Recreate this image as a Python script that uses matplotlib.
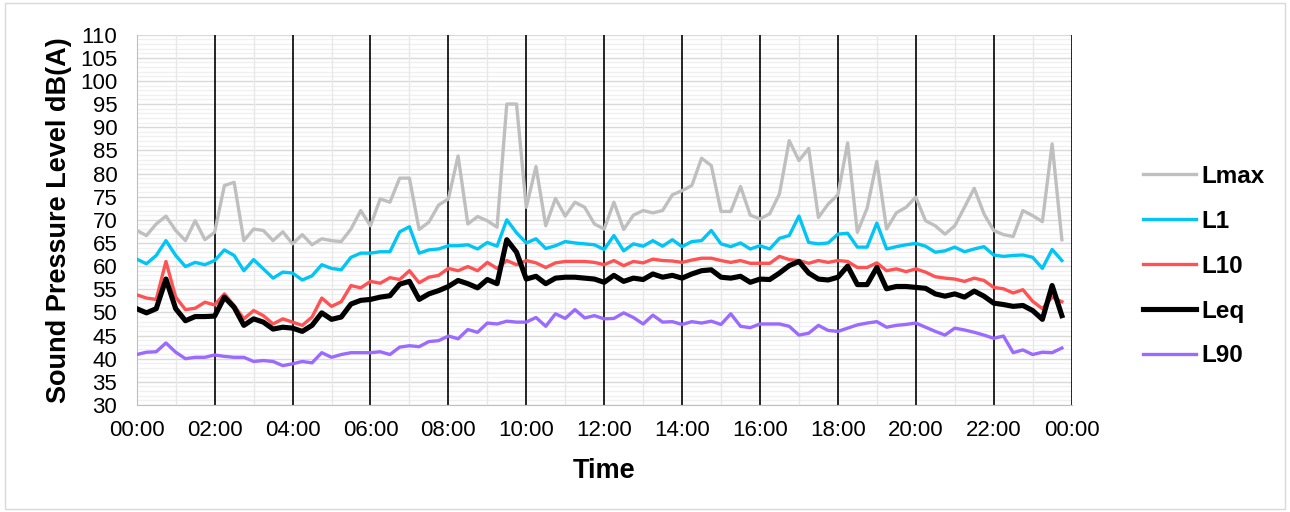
import numpy as np
import matplotlib.pyplot as plt
from matplotlib.ticker import MultipleLocator, FuncFormatter
from matplotlib.patches import Rectangle

plt.rcParams['font.family'] = ['Liberation Sans', 'DejaVu Sans']

# 15-minute readings over 24 hours, dB(A)
hours = np.arange(96) * 0.25

lmax = [67.7, 66.6, 69.1, 70.8, 67.7, 65.5, 69.8, 65.7, 67.3, 77.4, 78.1, 65.5, 68.0, 67.7, 65.5, 67.4,
        64.8, 66.8, 64.6, 65.9, 65.5, 65.3, 68.0, 72.0, 68.7, 74.5, 73.8, 79.0, 79.0, 67.9, 69.5, 73.2,
        74.5, 83.8, 69.1, 70.7, 69.8, 68.4, 95.0, 95.0, 72.7, 81.5, 68.7, 74.6, 70.8, 73.8, 72.7, 69.1,
        68.0, 73.8, 67.9, 71.0, 72.0, 71.5, 72.0, 75.4, 76.3, 77.4, 83.3, 81.7, 71.8, 71.8, 77.2, 71.0,
        70.2, 71.3, 75.6, 87.1, 82.8, 85.4, 70.5, 73.4, 75.4, 86.6, 67.3, 72.5, 82.6, 68.0, 71.5, 72.7,
        74.9, 69.8, 68.7, 66.9, 68.7, 72.7, 76.8, 71.3, 67.7, 66.8, 66.4, 72.0, 70.9, 69.6, 86.4, 65.7]
l1 = [61.5, 60.5, 62.3, 65.5, 62.3, 59.9, 60.8, 60.3, 61.2, 63.5, 62.3, 59.0, 61.4, 59.4, 57.4, 58.7,
      58.5, 57.0, 57.9, 60.3, 59.5, 59.2, 61.9, 62.8, 62.8, 63.1, 63.1, 67.4, 68.5, 62.8, 63.5, 63.7,
      64.4, 64.4, 64.6, 63.7, 65.1, 64.3, 70.0, 67.2, 65.0, 65.9, 63.8, 64.4, 65.3, 65.0, 64.8, 64.6,
      63.6, 66.6, 63.3, 64.8, 64.3, 65.5, 64.3, 65.7, 64.2, 65.3, 65.5, 67.7, 64.8, 64.2, 65.0, 63.7,
      64.4, 63.7, 66.0, 66.6, 70.8, 65.1, 64.8, 65.0, 66.9, 67.1, 64.1, 64.1, 69.3, 63.7, 64.2, 64.6,
      64.9, 64.3, 63.0, 63.3, 64.1, 63.1, 63.7, 64.2, 62.4, 62.1, 62.3, 62.4, 61.9, 59.5, 63.6, 61.2]
l10 = [53.8, 53.1, 52.8, 61.0, 53.3, 50.6, 50.9, 52.2, 51.6, 54.0, 51.5, 48.6, 50.4, 49.3, 47.5, 48.6,
       47.9, 47.2, 49.0, 53.1, 51.3, 52.3, 55.8, 55.3, 56.7, 56.3, 57.5, 57.1, 59.0, 56.4, 57.6, 58.0,
       59.5, 59.0, 59.9, 59.0, 60.8, 59.5, 61.2, 60.3, 61.2, 60.7, 59.7, 60.7, 61.0, 61.0, 61.0, 60.8,
       60.3, 61.2, 60.1, 61.0, 60.7, 61.5, 61.2, 61.1, 60.8, 61.3, 61.7, 61.7, 61.2, 60.8, 61.2, 60.6,
       60.6, 60.6, 62.1, 61.4, 61.2, 60.6, 61.2, 60.8, 61.2, 61.0, 59.7, 59.7, 60.7, 59.0, 59.4, 58.8,
       59.4, 58.7, 57.7, 57.4, 57.2, 56.7, 57.4, 56.9, 55.4, 55.1, 54.2, 54.9, 52.4, 50.8, 53.3, 52.3]
leq = [50.8, 49.9, 50.8, 57.2, 50.8, 48.2, 49.1, 49.1, 49.2, 53.3, 51.1, 47.2, 48.6, 47.9, 46.4, 46.8,
       46.6, 45.9, 47.2, 49.9, 48.5, 49.0, 51.8, 52.6, 52.8, 53.3, 53.6, 56.1, 56.7, 52.8, 54.0, 54.7,
       55.6, 56.9, 56.2, 55.3, 57.1, 56.2, 65.7, 63.0, 57.2, 57.8, 56.2, 57.4, 57.6, 57.6, 57.4, 57.2,
       56.5, 58.0, 56.7, 57.4, 57.1, 58.3, 57.6, 58.0, 57.4, 58.3, 59.0, 59.2, 57.6, 57.4, 57.8, 56.5,
       57.2, 57.1, 58.5, 60.1, 61.0, 58.5, 57.2, 57.0, 57.6, 60.0, 56.0, 56.0, 59.7, 55.1, 55.6, 55.6,
       55.4, 55.2, 54.0, 53.5, 54.0, 53.3, 54.6, 53.5, 52.0, 51.7, 51.3, 51.5, 50.4, 48.5, 55.8, 49.3]
l90 = [40.9, 41.4, 41.5, 43.4, 41.4, 40.0, 40.3, 40.3, 40.8, 40.5, 40.3, 40.3, 39.4, 39.6, 39.4, 38.5,
       38.9, 39.4, 39.1, 41.3, 40.3, 40.9, 41.3, 41.3, 41.3, 41.5, 40.9, 42.5, 42.8, 42.6, 43.7, 43.9,
       44.9, 44.3, 46.3, 45.7, 47.7, 47.5, 48.1, 47.9, 47.9, 48.9, 47.0, 49.7, 48.7, 50.6, 48.8, 49.3,
       48.6, 48.7, 49.9, 48.9, 47.5, 49.4, 47.9, 48.0, 47.4, 48.0, 47.7, 48.1, 47.4, 49.7, 47.0, 46.7,
       47.5, 47.5, 47.5, 47.0, 45.1, 45.5, 47.2, 46.1, 45.9, 46.6, 47.3, 47.7, 48.0, 46.8, 47.2, 47.4,
       47.7, 46.8, 45.9, 45.1, 46.6, 46.2, 45.7, 45.1, 44.4, 44.9, 41.3, 41.9, 40.9, 41.4, 41.3, 42.3]

fig = plt.figure(figsize=(12.9, 5.12), dpi=100)
fig.patches.append(Rectangle((0.004, 0.006), 0.992, 0.988, transform=fig.transFigure,
                             fill=False, edgecolor='#d9d9d9', linewidth=1))
ax = fig.add_axes([0.106, 0.209, 0.7247, 0.7234])

ax.plot(hours, lmax, color='#bfbfbf', lw=2.4, label='Lmax', zorder=3)
ax.plot(hours, l1, color='#00c5f5', lw=2.4, label='L1', zorder=3)
ax.plot(hours, l10, color='#ff5353', lw=2.4, label='L10', zorder=3)
ax.plot(hours, leq, color='black', lw=3.7, label='Leq', zorder=3)
ax.plot(hours, l90, color='#9b6bff', lw=2.4, label='L90', zorder=3)

ax.set_xlim(0, 24)
ax.set_ylim(30, 110)
ax.xaxis.set_major_locator(MultipleLocator(2))
ax.xaxis.set_minor_locator(MultipleLocator(1))
ax.yaxis.set_major_locator(MultipleLocator(5))
ax.yaxis.set_minor_locator(MultipleLocator(1))
ax.xaxis.set_major_formatter(FuncFormatter(lambda v, p: '%02d:00' % (int(v) % 24)))

# light horizontal grid, light hourly lines, black 2-hourly lines on top
for y in range(30, 111):
    ax.axhline(y, color='#d9d9d9' if y % 5 == 0 else '#f0f0f0', lw=1, zorder=0.5 if y % 5 else 0.7)
for x in range(1, 24, 2):
    ax.axvline(x, color='#e8e8e8', lw=1, zorder=0.8)
for x in range(2, 25, 2):
    ax.axvline(x, color='black', lw=1.2, zorder=1)

ax.tick_params(which='both', length=0, labelsize=16, colors='black')
ax.tick_params(axis='y', pad=14)
ax.tick_params(axis='x', pad=11)
for s in ['top', 'right']:
    ax.spines[s].set_visible(False)
ax.spines['left'].set_color('#bfbfbf')
ax.spines['bottom'].set_color('#bfbfbf')
ax.spines['left'].set_zorder(2)
ax.spines['bottom'].set_zorder(2)

ax.set_ylabel('Sound Pressure Level dB(A)', fontsize=19.5, fontweight='bold', labelpad=6)
ax.set_xlabel('Time', fontsize=19.5, fontweight='bold', labelpad=12)

leg = ax.legend(loc='center left', bbox_to_anchor=(0.869, 0.48), bbox_transform=fig.transFigure,
                frameon=False, prop={'size': 17.5, 'weight': 'bold'}, labelspacing=0.9,
                handlelength=2.2, handletextpad=0.2)

fig.savefig('out.png', dpi=100)
